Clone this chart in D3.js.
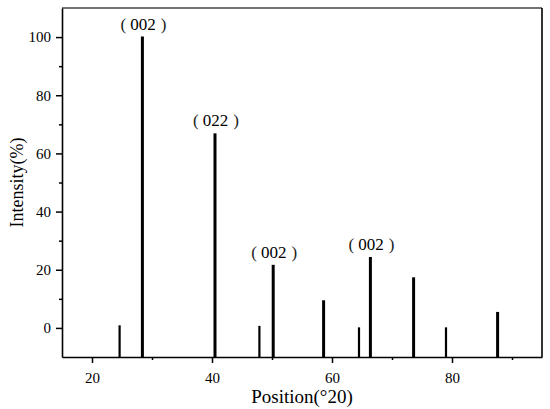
<!DOCTYPE html>
<html lang="en">
<head>
	<meta charset="utf-8">
	<title>XRD peaks</title>
	<script src="https://d3js.org/d3.v7.min.js" charset="utf-8"></script>
	<style>
	body { margin: 0; background: #fff; }
	text { font-family: "Liberation Serif", "DejaVu Serif", serif; fill: #000; }
	.axis path, .axis line { stroke: #000; }
	.paren { fill: #222; }
	</style>
</head>
<body>
	<script>
	// peak positions (deg 2theta) and relative intensities
	var positions = [24.6, 28.4, 40.5, 47.9, 50.2, 58.6, 64.5, 66.4, 73.6, 79.0, 87.6];
	var intensities = [0.9, 100.2, 66.9, 0.7, 21.7, 9.5, 0.2, 24.4, 17.4, 0.2, 5.5];
	var peakLabels = ["", "002", "022", "", "002", "", "", "002", "", "", ""];
	var xTicks = [20, 40, 60, 80];
	var yTicks = [0, 20, 40, 60, 80, 100];

	var width = 550;
	var height = 409;
	var margin = {left: 62, top: 8, right: 8, bottom: 52};

	var svg = d3.select('body')
	.append('svg')
	.attr('width', width)
	.attr('height', height);

	var x = d3.scaleLinear()
	.domain([15, 95])
	.range([margin.left, width - margin.right]);

	var y = d3.scaleLinear()
	.domain([-10, 110])
	.range([height - margin.bottom, margin.top]);

	var peaks = positions.map(function(p, i) {
		return {pos: p, val: intensities[i], label: peakLabels[i]};
	});

	// frame (top edge is lighter in the original)
	svg.append('line')
	.attr('x1', x(15)).attr('x2', x(95))
	.attr('y1', y(110)).attr('y2', y(110))
	.attr('stroke', '#444').attr('stroke-width', 1.3);
	svg.append('line')
	.attr('x1', x(95)).attr('x2', x(95))
	.attr('y1', y(110)).attr('y2', y(-10))
	.attr('stroke', '#000').attr('stroke-width', 1.6);

	// bars
	svg.append('g').selectAll('line')
	.data(peaks)
	.enter()
	.append('line')
	.attr('x1', function(d) { return x(d.pos); })
	.attr('x2', function(d) { return x(d.pos); })
	.attr('y1', y(-10))
	.attr('y2', function(d) { return y(d.val); })
	.attr('stroke', '#000')
	.attr('stroke-width', function(d) { return d.val < 2 ? 2.2 : 3; });

	// hkl labels, brackets spaced out like full-width ones
	var lab = svg.append('g').selectAll('text')
	.data(peaks.filter(function(d) { return d.label; }))
	.enter()
	.append('text')
	.attr('x', function(d) { return x(d.pos) + 1; })
	.attr('y', function(d) { return y(d.val) - 7; })
	.attr('text-anchor', 'middle')
	.style('font-size', '17px');
	lab.append('tspan').attr('class', 'paren').text('(');
	lab.append('tspan').attr('dx', 4).text(function(d) { return d.label; });
	lab.append('tspan').attr('dx', 5).attr('class', 'paren').text(')');

	// axes
	var xAxis = svg.append('g')
	.attr('class', 'axis')
	.attr('transform', 'translate(0,' + y(-10) + ')')
	.call(d3.axisBottom(x).tickValues(xTicks).tickSize(6).tickSizeOuter(0).tickFormat(d3.format('d')));
	xAxis.select('.domain').attr('stroke-width', 1.6);
	xAxis.selectAll('line').attr('stroke-width', 1.5);
	xAxis.selectAll('text').style('font-size', '15px').attr('dy', '1.1em');

	svg.append('g')
	.attr('class', 'axis')
	.attr('transform', 'translate(0,' + y(-10) + ')')
	.call(d3.axisBottom(x).tickValues([30, 50, 70, 90]).tickSize(3).tickFormat(''))
	.call(function(g) { g.select('.domain').remove(); g.selectAll('line').attr('stroke-width', 1.5); });

	var yAxis = svg.append('g')
	.attr('class', 'axis')
	.attr('transform', 'translate(' + x(15) + ',0)')
	.call(d3.axisLeft(y).tickValues(yTicks).tickSize(6).tickSizeOuter(0));
	yAxis.select('.domain').attr('stroke-width', 1.6);
	yAxis.selectAll('line').attr('stroke-width', 1.5);
	yAxis.selectAll('text').style('font-size', '15px').attr('x', -11);

	svg.append('g')
	.attr('class', 'axis')
	.attr('transform', 'translate(' + x(15) + ',0)')
	.call(d3.axisLeft(y).tickValues([10, 30, 50, 70, 90]).tickSize(3).tickFormat(''))
	.call(function(g) { g.select('.domain').remove(); g.selectAll('line').attr('stroke-width', 1.5); });

	// axis titles
	svg.append('text')
	.attr('x', 302)
	.attr('y', 403)
	.attr('text-anchor', 'middle')
	.style('font-size', '19px')
	.text('Position(°20)');

	svg.append('text')
	.attr('transform', 'translate(23,' + y(50) + ') rotate(-90)')
	.attr('text-anchor', 'middle')
	.style('font-size', '18px')
	.text('Intensity(%)');
	</script>
</body>
</html>
